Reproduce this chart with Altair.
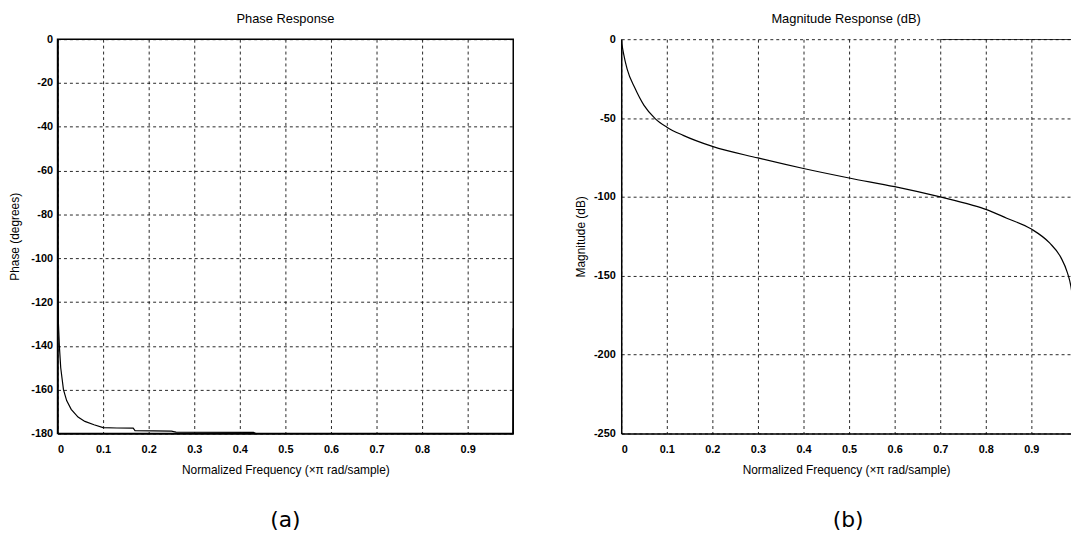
import altair as alt
import pandas as pd

# ---- data ----
phase_freq = [0, 0.0005, 0.002, 0.004, 0.007, 0.010, 0.013, 0.02, 0.03, 0.045, 0.06, 0.08,
              0.1, 0.13, 0.166, 0.17, 0.25, 0.26, 0.43, 0.435, 0.999, 1.0]
phase_deg = [0, -100, -130, -140, -150, -155, -160, -165, -169, -172.5, -174.5, -176,
             -177.3, -177.5, -177.6, -178.7, -178.9, -179.4, -179.5, -180, -180, -132]

mag_freq = [0, 0.002, 0.005, 0.013, 0.03, 0.05, 0.075, 0.1, 0.136, 0.2, 0.3, 0.4, 0.5,
            0.6, 0.7, 0.77, 0.8, 0.846, 0.9, 0.94, 0.965, 0.979, 0.987, 0.995]
mag_db = [0, -4, -9, -19, -31, -42, -50.5, -55.8, -61, -68, -75.3, -82, -88,
          -93.5, -100, -105.2, -107.9, -113.5, -120.4, -129.2, -138.5, -148, -157, -175]

x_ticks = [0, 0.1, 0.2, 0.3, 0.4, 0.5, 0.6, 0.7, 0.8, 0.9]
phase_ticks = [0, -20, -40, -60, -80, -100, -120, -140, -160, -180]
mag_ticks = [0, -50, -100, -150, -200, -250]

top_seg_start = [0.70]
top_seg_end = [1.0]

xlabel = "Normalized Frequency (\u00d7\u03c0 rad/sample)"

phase_df = pd.DataFrame({"f": phase_freq, "v": phase_deg})
mag_df = pd.DataFrame({"f": mag_freq, "v": mag_db})
seg_df = pd.DataFrame({"f": top_seg_start, "f2": top_seg_end, "v": [0]})

FONT = "Liberation Sans, Arial, sans-serif"
W_A, W_B, H = 460, 454, 398


def xaxis():
    return alt.Axis(values=x_ticks, labelExpr="'' + datum.value", title=xlabel,
                    labelPadding=10, titlePadding=10)


# ---- panel (a) ----
line_a = alt.Chart(phase_df).mark_line(color="black", strokeWidth=1.2, clip=True).encode(
    x=alt.X("f:Q", scale=alt.Scale(domain=[0, 1], nice=False), axis=xaxis()),
    y=alt.Y("v:Q", scale=alt.Scale(domain=[-180, 0], nice=False),
            axis=alt.Axis(values=phase_ticks, labelExpr="'' + datum.value",
                          title="Phase (degrees)", labelPadding=5, titlePadding=9)),
)
lab_a = alt.Chart(pd.DataFrame({"t": ["(a)"]})).mark_text(
    font="DejaVu Sans", fontSize=22, color="black", baseline="middle", align="center"
).encode(text="t:N", x=alt.value(230), y=alt.value(485))

panel_a = alt.layer(line_a, lab_a).properties(width=W_A, height=H, title="Phase Response")

# ---- panel (b) ----
line_b = alt.Chart(mag_df).mark_line(
    color="black", strokeWidth=1.2, clip=True, interpolate="monotone"
).encode(
    x=alt.X("f:Q", scale=alt.Scale(domain=[0, 0.987], nice=False), axis=xaxis()),
    y=alt.Y("v:Q", scale=alt.Scale(domain=[-250, 0], nice=False),
            axis=alt.Axis(values=mag_ticks, labelExpr="'' + datum.value",
                          title="Magnitude (dB)", labelPadding=6, titlePadding=6)),
)
seg_b = alt.Chart(seg_df).mark_rule(color="black", strokeWidth=1.6, clip=True).encode(
    x="f:Q", x2="f2:Q", y="v:Q"
)
lab_b = alt.Chart(pd.DataFrame({"t": ["(b)"]})).mark_text(
    font="DejaVu Sans", fontSize=22, color="black", baseline="middle", align="center"
).encode(text="t:N", x=alt.value(229), y=alt.value(485))

panel_b = alt.layer(line_b, seg_b, lab_b).properties(
    width=W_B, height=H, title="Magnitude Response (dB)",
    view=alt.ViewBackground(stroke=None),
)

chart = alt.hconcat(panel_a, panel_b, spacing=60).properties(
    padding={"left": 0, "top": 2, "right": 0, "bottom": 0},
    background="white",
).configure_axis(
    labelFont=FONT, labelFontSize=11, labelFontWeight="bold", labelColor="black",
    titleFont=FONT, titleFontSize=12, titleFontWeight="normal", titleColor="black",
    grid=True, gridColor="black", gridDash=[3, 3], gridOpacity=0.85, gridWidth=1,
    domainColor="black", domainWidth=1.5, ticks=False,
).configure_view(
    stroke="black", strokeWidth=1.5
).configure_title(
    font=FONT, fontSize=13, fontWeight="normal", color="black", anchor="middle", offset=7
)

chart.save("out.html", embed_options={"renderer": "svg", "actions": False})
